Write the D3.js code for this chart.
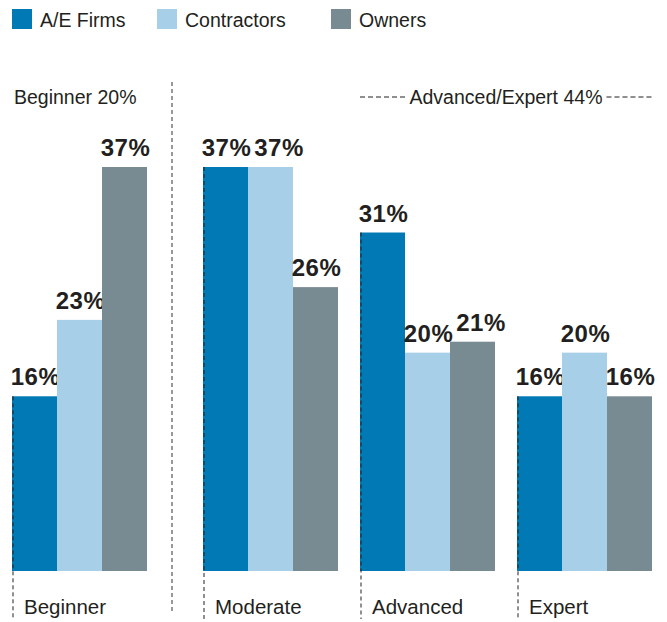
<!DOCTYPE html>
<html><head><meta charset="utf-8">
<script src="https://cdn.jsdelivr.net/npm/d3@7/dist/d3.min.js"></script>
<style>
body{margin:0;background:#fff;}
svg{display:block;}
text{font-family:"Liberation Sans",Arial,sans-serif;fill:#231f20;}
text.val{font-weight:bold;letter-spacing:0.5px;}
</style></head>
<body>
<script>
const categories = ["Beginner", "Moderate", "Advanced", "Expert"];
const series = ["A/E Firms", "Contractors", "Owners"];
const aeFirms = [16, 37, 31, 16];
const contractors = [23, 37, 20, 20];
const owners = [37, 26, 21, 16];
const beginnerHeader = "Beginner 20%";
const advancedHeader = "Advanced/Expert 44%";

const values = [aeFirms, contractors, owners];
const colors = ["#0079b4", "#a8cfe8", "#798b92"];

const W = 667, H = 622;
const svg = d3.select("body").append("svg").attr("width", W).attr("height", H);

const y = d3.scaleLinear().domain([0, 37]).range([571, 167]);
const x0 = d3.scaleBand().domain(categories).range([12, 618]).paddingInner(22 / 157).paddingOuter(0);
const shift = 34;
const gx = c => x0(c) + (categories.indexOf(c) > 0 ? shift : 0);
const x1 = d3.scaleBand().domain(series).range([0, x0.bandwidth()]);
const color = d3.scaleOrdinal().domain(series).range(colors);

// Legend
const lg = svg.append("g");
const legendX = [12, 157, 331];
series.forEach((s, i) => {
  lg.append("rect").attr("x", legendX[i]).attr("y", 9).attr("width", 20).attr("height", 20).attr("fill", color(s));
  lg.append("text").attr("x", legendX[i] + 28).attr("y", 27).attr("font-size", 19.5).text(s);
});

// separator
svg.append("line").attr("x1", 172).attr("x2", 172).attr("y1", 82).attr("y2", 612)
  .attr("stroke", "#555").attr("stroke-width", 1.2).attr("stroke-dasharray", "4,3");

// headers
svg.append("text").attr("x", 14).attr("y", 104).attr("font-size", 19.5).text(beginnerHeader);
const advStart = gx("Advanced"), expEnd = gx("Expert") + x0.bandwidth();
const hdr = svg.append("text").attr("x", (advStart + expEnd) / 2).attr("y", 104).attr("font-size", 19.5)
  .attr("text-anchor", "middle").text(advancedHeader);
const bb = hdr.node().getBBox();
svg.append("line").attr("x1", advStart).attr("x2", bb.x - 4).attr("y1", 97).attr("y2", 97)
  .attr("stroke", "#231f20").attr("stroke-dasharray", "5,3");
svg.append("line").attr("x1", bb.x + bb.width + 4).attr("x2", expEnd).attr("y1", 97).attr("y2", 97)
  .attr("stroke", "#231f20").attr("stroke-dasharray", "5,3");

// bars
const groups = svg.selectAll("g.grp").data(categories).join("g").attr("class", "grp")
  .attr("transform", c => `translate(${gx(c)},0)`);
groups.each(function(c, ci) {
  const g = d3.select(this);
  let prev = null;
  series.forEach((s, si) => {
    const v = values[si][ci];
    g.append("rect").attr("x", x1(s)).attr("y", y(v)).attr("width", x1.bandwidth()).attr("height", y(0) - y(v))
      .attr("fill", color(s));
    const t = g.append("text").attr("class", "val").attr("x", x1(s) + x1.bandwidth() / 2 + 1).attr("y", y(v) - 11)
      .attr("text-anchor", "middle").attr("font-size", 24).text(v + "%");
    const b = t.node().getBBox();
    if (prev && Math.abs(prev.y - b.y) < b.height && b.x < prev.x + prev.width + 3) {
      t.attr("x", +t.attr("x") + (prev.x + prev.width + 3 - b.x));
    }
    prev = t.node().getBBox();
  });
  g.append("line").attr("x1", 1).attr("x2", 1).attr("y1", y(values[0][ci])).attr("y2", 619)
    .attr("stroke", "#231f20").attr("stroke-width", 1).attr("stroke-dasharray", "4,3");
  g.append("text").attr("x", 12).attr("y", 614).attr("font-size", 20.5).text(c);
});
</script>
</body></html>
